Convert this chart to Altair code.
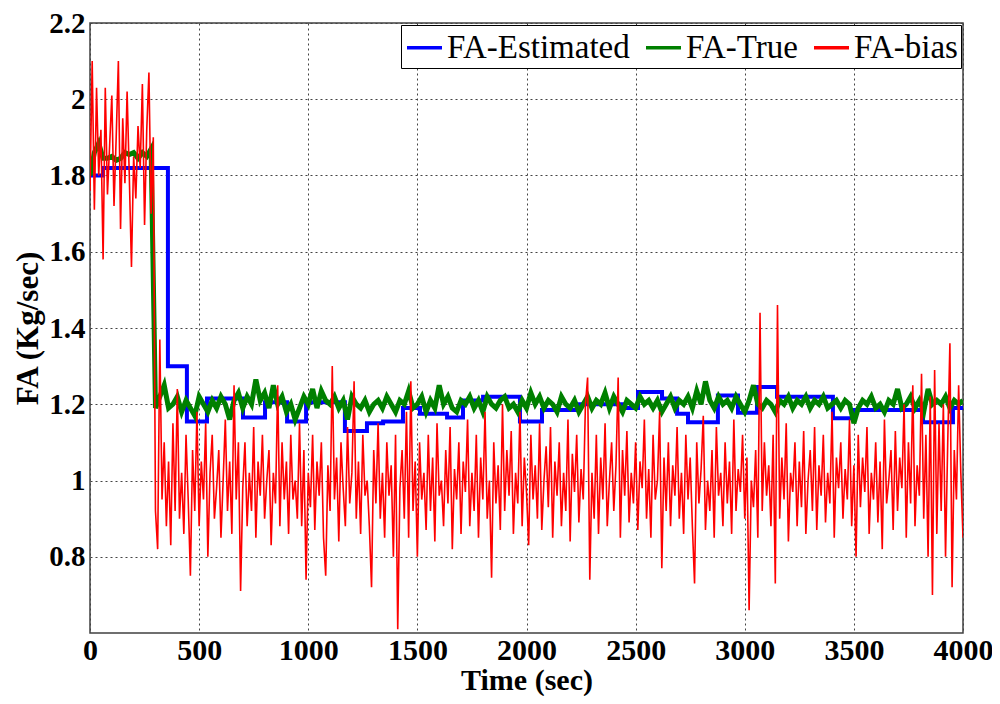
import altair as alt
import pandas as pd

# ---- FA-Estimated (step function): start times and levels
est_t = [0, 60, 357, 444, 536, 701, 802, 903, 990, 1168, 1269, 1343, 1434, 1512, 1636, 1709, 1801,
         1970, 2071, 2231, 2442, 2511, 2621, 2690, 2740, 2877, 2969, 3056, 3148, 3404, 3496, 3817, 3954, 4000]
est_v = [1.80, 1.82, 1.30, 1.155, 1.215, 1.165, 1.205, 1.155, 1.205, 1.13, 1.15, 1.155, 1.19, 1.175, 1.165, 1.21, 1.22,
         1.155, 1.185, 1.20, 1.19, 1.232, 1.215, 1.175, 1.153, 1.223, 1.178, 1.245, 1.22, 1.163, 1.185, 1.153, 1.19, 1.19]

# ---- FA-True, every 20 s
true_t = list(range(0, 4001, 20))
true_v = [1.80, 1.86, 1.885, 1.845, 1.845, 1.85, 1.84, 1.845, 1.86, 1.855, 1.86, 1.845, 1.86, 1.85, 1.87,
          1.19, 1.22, 1.25, 1.19, 1.20, 1.22, 1.18, 1.21, 1.19, 1.17,
          1.22, 1.20, 1.18, 1.21, 1.19, 1.22, 1.20, 1.16, 1.21, 1.23,
          1.19, 1.22, 1.20, 1.265, 1.21, 1.23, 1.19, 1.25, 1.20, 1.22,
          1.18, 1.20, 1.16, 1.19, 1.22, 1.20, 1.24, 1.19, 1.235, 1.21,
          1.20, 1.22, 1.19, 1.21, 1.16, 1.22, 1.20, 1.19, 1.21, 1.18,
          1.20, 1.21, 1.19, 1.22, 1.20, 1.18, 1.21, 1.20, 1.235, 1.19,
          1.20, 1.22, 1.18, 1.21, 1.19, 1.25, 1.20, 1.22, 1.19, 1.18,
          1.21, 1.20, 1.22, 1.19, 1.21, 1.18, 1.22, 1.20, 1.19, 1.21,
          1.22, 1.19, 1.20, 1.18, 1.21, 1.19, 1.23, 1.20, 1.22, 1.19,
          1.21, 1.20, 1.18, 1.22, 1.20, 1.19, 1.21, 1.18, 1.20, 1.22,
          1.19, 1.21, 1.20, 1.23, 1.19, 1.22, 1.20, 1.18, 1.21, 1.20,
          1.19, 1.22, 1.20, 1.21, 1.19, 1.21, 1.18, 1.20, 1.22, 1.19,
          1.21, 1.20, 1.22, 1.19, 1.235, 1.20, 1.26, 1.21, 1.19, 1.22,
          1.20, 1.21, 1.19, 1.22, 1.20, 1.18, 1.21, 1.25, 1.20, 1.19,
          1.21, 1.20, 1.18, 1.21, 1.20, 1.22, 1.19, 1.21, 1.20, 1.22,
          1.19, 1.21, 1.20, 1.22, 1.19, 1.20, 1.21, 1.19, 1.21, 1.20,
          1.15, 1.19, 1.21, 1.20, 1.22, 1.19, 1.20, 1.18, 1.21, 1.20,
          1.24, 1.19, 1.20, 1.22, 1.19, 1.21, 1.18, 1.24, 1.20, 1.21,
          1.20, 1.22, 1.19, 1.21, 1.20, 1.21]

# ---- FA-bias, every 10 s
bias_t = list(range(0, 4001, 10))
bias_v = [1.76, 2.10, 1.71, 2.03, 1.80, 1.92, 1.58, 2.03, 1.75, 1.88, 2.01, 1.72, 1.90, 2.10, 1.66,
          1.95, 1.78, 2.02, 1.80, 1.56, 1.85, 1.74, 1.93, 1.82, 2.04, 1.67, 1.92, 2.07, 1.70, 1.90,
          0.92, 0.82, 1.37, 0.95, 1.10, 0.88, 1.05, 0.83, 1.15, 0.92, 1.24, 0.90, 1.02, 0.86, 1.12, 0.95, 0.75, 1.08, 0.92, 1.18,
          0.88, 1.05, 0.95, 1.15, 0.80, 1.02, 1.12, 0.90, 0.98, 1.08, 0.85, 1.00, 1.16, 0.92, 1.05, 0.86, 1.25, 0.95, 1.10, 0.71,
          0.98, 1.10, 0.88, 1.02, 0.92, 1.14, 0.85, 1.05, 0.96, 1.12, 0.90, 1.00, 1.08, 0.83, 1.02, 0.94, 1.25, 0.88, 1.10, 0.95,
          1.05, 0.86, 1.12, 0.95, 1.00, 0.90, 1.15, 0.88, 1.08, 0.74, 1.02, 0.93, 1.12, 0.87, 1.05, 0.96, 1.10, 0.85, 0.75, 1.04,
          0.92, 1.30, 0.95, 1.06, 0.84, 1.10, 0.98, 0.88, 1.14, 0.94, 1.02, 1.26, 0.90, 1.05, 0.86, 1.12, 0.96, 1.00, 0.88, 0.72,
          1.08, 0.94, 1.15, 0.90, 1.02, 0.85, 1.10, 0.96, 1.04, 0.80, 1.12, 0.61, 0.98, 1.08, 0.90, 1.18, 0.85, 1.26, 0.92, 1.05,
          0.80, 1.10, 0.95, 1.02, 0.87, 1.12, 0.92, 1.06, 0.84, 1.15, 0.96, 1.00, 0.88, 1.08, 0.94, 1.14, 0.82, 1.03, 0.95, 1.10,
          0.86, 1.05, 0.97, 1.16, 0.88, 1.02, 0.92, 1.12, 0.85, 1.06, 0.95, 1.18, 0.90, 1.00, 0.745, 1.10, 0.94, 1.04, 0.87, 1.20,
          0.92, 1.08, 0.96, 1.13, 0.86, 1.02, 0.94, 1.18, 0.88, 1.06, 0.97, 0.83, 1.12, 0.95, 1.04, 0.90, 1.15, 0.87, 1.00, 1.09,
          0.93, 1.14, 0.85, 1.05, 0.96, 1.10, 0.88, 1.02, 0.92, 1.16, 0.84, 1.07, 0.97, 1.12, 0.89, 1.03, 0.95, 1.20, 1.27, 0.74,
          1.02, 0.90, 1.12, 0.86, 1.06, 0.95, 1.15, 0.88, 1.00, 1.10, 0.92, 1.04, 1.27, 0.85, 1.08, 0.96, 1.13, 0.89, 1.02, 0.94,
          1.10, 0.87, 1.05, 0.98, 1.16, 0.90, 1.03, 0.85, 1.12, 0.95, 1.00, 1.18, 0.77, 1.06, 0.92, 1.10, 0.88, 1.04, 0.96, 1.14,
          0.90, 1.02, 0.86, 1.12, 0.95, 1.06, 0.88, 0.73, 1.10, 0.94, 1.03, 1.17, 0.87, 1.00, 0.92, 1.08, 0.85, 1.14, 0.96, 1.02,
          0.88, 1.10, 0.94, 1.05, 0.86, 1.16, 0.92, 1.03, 0.97, 1.12, 0.90, 1.06, 0.66, 1.00, 0.93, 1.08, 0.85, 1.44, 0.92, 1.10,
          0.96, 1.04, 0.88, 1.12, 0.73, 1.46, 0.90, 1.06, 0.95, 1.15, 0.84, 1.02, 0.97, 1.10, 0.88, 1.05, 0.93, 1.13, 0.86, 1.00,
          1.08, 0.92, 1.14, 0.87, 1.04, 0.96, 1.12, 0.89, 1.02, 0.94, 1.18, 0.85, 1.06, 0.98, 1.10, 0.90, 1.03, 0.95, 1.16, 0.88,
          1.04, 0.80, 1.12, 0.93, 1.06, 0.97, 1.14, 0.86, 1.02, 0.95, 1.10, 0.89, 1.05, 0.82, 1.16, 0.94, 1.00, 1.08, 0.87, 1.13,
          0.92, 1.06, 0.98, 1.20, 0.85, 1.10, 0.94, 1.25, 0.88, 1.04, 0.96, 1.28, 0.90, 1.12, 0.80, 1.22, 0.70, 1.29, 0.86, 1.15,
          0.92, 1.20, 0.80, 1.10, 1.36, 0.72, 1.08, 0.95, 1.25, 1.02, 0.85]

series_names = ["FA-Estimated", "FA-True", "FA-bias"]
series_colors = ["#0000ff", "#008000", "#ff0000"]

df_est = pd.DataFrame({"t": est_t, "v": est_v, "s": series_names[0]})
df_true = pd.DataFrame({"t": true_t, "v": true_v, "s": series_names[1]})
df_bias = pd.DataFrame({"t": bias_t, "v": bias_v, "s": series_names[2]})

FONT = "Liberation Serif"

x_enc = alt.X("t:Q", scale=alt.Scale(domain=[0, 4000], nice=False),
              axis=alt.Axis(values=list(range(0, 4001, 500)), format="d", title="Time (sec)"))
y_enc = alt.Y("v:Q", scale=alt.Scale(domain=[0.6, 2.2], nice=False, zero=False),
              axis=alt.Axis(values=[0.8, 1.0, 1.2, 1.4, 1.6, 1.8, 2.0, 2.2], format="~g",
                            title="FA (Kg/sec)"))
legend = alt.Legend(
    title=None, orient="top-right", direction="horizontal", columns=3,
    symbolType="stroke", symbolSize=1225, symbolStrokeWidth=3.5,
    labelFont=FONT, labelFontSize=33, labelColor="black", labelFontWeight="normal",
    labelLimit=400,
    strokeColor="black", fillColor="white", padding=3, offset=2,
    columnPadding=9, symbolOffset=1, labelOffset=3,
)
c_enc = alt.Color("s:N", scale=alt.Scale(domain=series_names, range=series_colors), legend=legend)


def layer(df, interp, width):
    return alt.Chart(df).mark_line(interpolate=interp, clip=True, strokeWidth=width).encode(
        x=x_enc, y=y_enc, color=c_enc)


chart = alt.layer(
    layer(df_est, "step-after", 4),
    layer(df_true, "linear", 5),
    layer(df_bias, "linear", 1.6),
).properties(
    width=873, height=610,
    autosize=alt.AutoSizeParams(type="none"),
    padding={"left": 82, "top": 15, "right": 29, "bottom": 63},
).configure_view(
    stroke="#404040", strokeWidth=1.5
).configure_axis(
    labelFont=FONT, labelFontWeight="bold", labelFontSize=30, labelColor="black",
    titleFont=FONT, titleFontWeight="bold", titleFontSize=30, titleColor="black",
    grid=True, gridColor="#444444", gridDash=[2, 3], gridWidth=1,
    domain=False, ticks=False
).configure_axisX(
    labelPadding=2, titlePadding=0, labelFlush=False
).configure_axisY(
    labelPadding=5, titlePadding=4, labelFontSize=29, titleFontSize=31
)

chart.save("out.html", embed_options={"renderer": "svg", "actions": False})
